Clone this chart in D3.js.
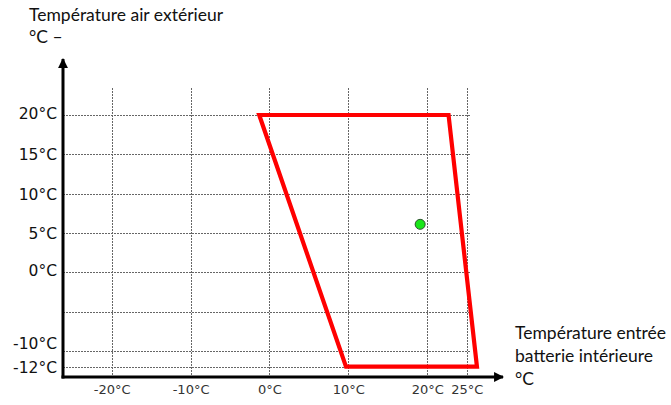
<!DOCTYPE html>
<html>
<head>
<meta charset="utf-8">
<script src="https://cdn.jsdelivr.net/npm/d3@7"></script>
<style>
  html, body { margin: 0; padding: 0; background: #fff; }
  svg { display: block; }
</style>
</head>
<body>
<svg id="chart" width="671" height="405"></svg>
<script>
// ---- data ----
const xTicks = [-20, -10, 0, 10, 20, 25];
const xTickLabels = ["-20°C", "-10°C", "0°C", "10°C", "20°C", "25°C"];
const yGrid = [20, 15, 10, 5, 0, -5, -10, -12];
const yTicks = [20, 15, 10, 5, 0, -10, -12];
const yTickLabels = ["20°C", "15°C", "10°C", "5°C", "0°C", "-10°C", "-12°C"];
const envelopeX = [-1.3, 22.7, 26.3, 9.7];
const envelopeY = [20, 20, -12, -12];
const pointX = [19.1];
const pointY = [6.1];
const yTitle = ["Température air extérieur", "°C –"];
const xTitle = ["Température entrée", "batterie intérieure", "°C"];

// ---- layout ----
const svg = d3.select("#chart");
const x = d3.scaleLinear().domain([-20, 25]).range([111.7, 466.7]);
const y = d3.scaleLinear().domain([-12, 20]).range([366.7, 115]);
const axisX0 = 63, axisY0 = 377;

// arrow markers
const defs = svg.append("defs");
defs.append("marker").attr("id", "arr").attr("viewBox", "0 0 10 10")
  .attr("refX", 9).attr("refY", 5).attr("markerWidth", 3.3).attr("markerHeight", 3.3)
  .attr("orient", "auto-start-reverse").attr("markerUnits", "strokeWidth")
  .append("path").attr("d", "M0,0 L10,5 L0,10 z").attr("fill", "#000");

// gridlines
const grid = svg.append("g").attr("stroke", "#666").attr("stroke-width", 1)
  .attr("stroke-dasharray", "2,1").attr("fill", "none");
grid.selectAll("line.h").data(yGrid).join("line").attr("class", "h")
  .attr("x1", axisX0).attr("x2", 470)
  .attr("y1", d => Math.round(y(d)) + 0.5).attr("y2", d => Math.round(y(d)) + 0.5);
grid.selectAll("line.v").data(xTicks).join("line").attr("class", "v")
  .attr("x1", d => Math.round(x(d)) + 0.5).attr("x2", d => Math.round(x(d)) + 0.5)
  .attr("y1", 88).attr("y2", axisY0);

// axes via d3 axis generators (labels only)
const yAxis = d3.axisLeft(y).tickValues(yTicks).tickSize(0).tickPadding(0)
  .tickFormat((d, i) => yTickLabels[i]);
const gy = svg.append("g").attr("transform", `translate(57,0)`).call(yAxis);
gy.select(".domain").remove();
gy.selectAll("text").attr("font-family", "DejaVu Sans, Verdana, sans-serif")
  .attr("font-size", 15.5).attr("fill", "#111")
  .attr("dy", d => d === -10 ? "-0.15em" : (d === 20 || d === 0 ? "0.2em" : "0.35em"));

const xAxis = d3.axisBottom(x).tickValues(xTicks).tickSize(0).tickPadding(0)
  .tickFormat((d, i) => xTickLabels[i]);
const gx = svg.append("g").attr("transform", `translate(0,384)`).call(xAxis);
gx.select(".domain").remove();
gx.selectAll("text").attr("font-family", "DejaVu Sans, Verdana, sans-serif")
  .attr("font-size", 13).attr("fill", "#333").attr("dy", "0.75em");

// envelope polygon
const pts = envelopeX.map((v, i) => [x(v), y(envelopeY[i])]);
svg.append("path").attr("d", d3.line()(pts) + "Z")
  .attr("fill", "none").attr("stroke", "#ff0000").attr("stroke-width", 4.2)
  .attr("stroke-linejoin", "miter");

// main axis lines
svg.append("line").attr("x1", axisX0).attr("x2", axisX0).attr("y1", axisY0 + 1.5).attr("y2", 59)
  .attr("stroke", "#000").attr("stroke-width", 3).attr("marker-end", "url(#arr)");
svg.append("line").attr("x1", axisX0 - 1.5).attr("x2", 503).attr("y1", axisY0).attr("y2", axisY0)
  .attr("stroke", "#000").attr("stroke-width", 3).attr("marker-end", "url(#arr)");

// point
svg.selectAll("circle.pt").data(pointX).join("circle").attr("class", "pt")
  .attr("cx", d => x(d)).attr("cy", (d, i) => y(pointY[i])).attr("r", 5)
  .attr("fill", "#19e619").attr("stroke", "#2f4f2f").attr("stroke-width", 1);

// titles
const tfont = "Lato, 'Open Sans', sans-serif";
svg.append("g").selectAll("text").data(yTitle).join("text")
  .attr("x", 29).attr("y", (d, i) => 21 + i * 22).text(d => d)
  .attr("font-family", tfont).attr("font-size", 17.5).attr("fill", "#111");
svg.append("g").selectAll("text").data(xTitle).join("text")
  .attr("x", 515).attr("y", (d, i) => 339 + i * 23).text(d => d)
  .attr("font-family", tfont).attr("font-size", 17.5).attr("fill", "#111");
</script>
</body>
</html>
